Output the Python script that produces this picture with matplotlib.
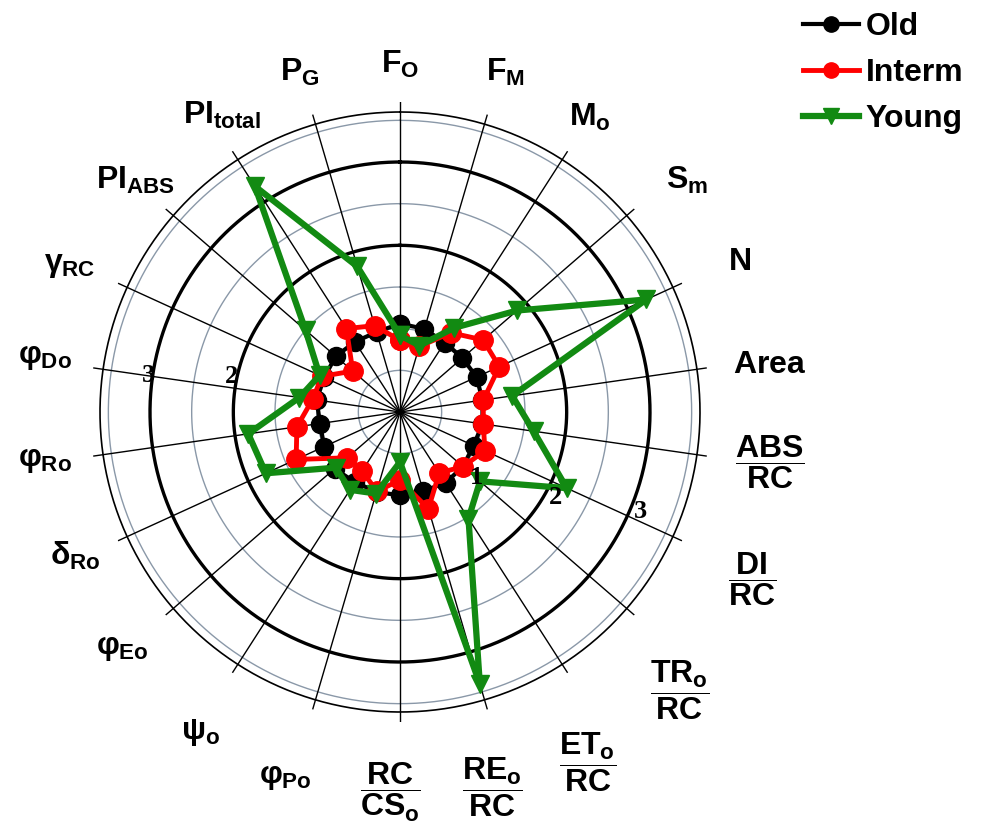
import numpy as np
import matplotlib
matplotlib.use("Agg")
import matplotlib.pyplot as plt
from matplotlib.lines import Line2D

plt.rcParams['font.family'] = ['Liberation Sans', 'DejaVu Sans']
plt.rcParams['mathtext.fontset'] = 'custom'
plt.rcParams['mathtext.rm'] = 'Liberation Sans:bold'
plt.rcParams['mathtext.it'] = 'Liberation Sans:bold'
plt.rcParams['mathtext.bf'] = 'Liberation Sans:bold'
plt.rcParams['mathtext.sf'] = 'Liberation Sans:bold'

# ---------------- data ----------------
categories = [r'$F_O$', r'$F_M$', r'$M_o$', r'$S_m$', r'$N$', r'$Area$',
              r'$\dfrac{ABS}{RC}$', r'$\dfrac{DI}{RC}$', r'$\dfrac{TR_o}{RC}$',
              r'$\dfrac{ET_o}{RC}$', r'$\dfrac{RE_o}{RC}$', r'$\dfrac{RC}{CS_o}$',
              r'$φ_{Po}$', r'$ψ_o$', r'$φ_{Eo}$', r'$δ_{Ro}$', r'$φ_{Ro}$',
              r'$φ_{Do}$', r'$γ_{RC}$', r'$PI_{ABS}$', r'$PI_{total}$', r'$P_G$']

old = [1.06, 1.04, 0.99, 0.99, 1.01, 1.00, 1.00, 0.97, 1.00, 1.01, 0.99,
       1.00, 1.00, 1.00, 1.04, 1.00, 0.97, 1.01, 1.00, 1.02, 1.00, 1.00]
interm = [0.86, 0.82, 1.13, 1.32, 1.31, 1.01, 1.01, 1.12, 1.00, 0.87, 1.21,
          0.82, 0.99, 0.84, 0.84, 1.37, 1.25, 1.06, 1.03, 0.75, 1.19, 1.08]
young = [0.92, 0.83, 1.20, 1.86, 3.25, 1.36, 1.62, 2.20, 1.27, 1.52, 3.40,
         0.60, 1.02, 1.11, 1.02, 1.77, 1.84, 1.22, 1.06, 1.50, 3.22, 1.82]

series_names = ['Old', 'Interm', 'Young']
tick_values = ['1', '2', '3']

# ---------------- layout ----------------
W, H = 987, 835
fig = plt.figure(figsize=(W / 100, H / 100), dpi=100)
cx, cy, R = 400, 412, 310
ax = fig.add_axes([(cx - R) / W, (H - cy - R) / H, 2 * R / W, 2 * R / H],
                  projection='polar')
ax.set_theta_zero_location('N')
ax.set_theta_direction(-1)
rmax = 3.72
ax.set_ylim(0, rmax)
ax.grid(False)
ax.set_xticks([])
ax.set_yticks([])
ax.spines['polar'].set_visible(False)
ax.patch.set_alpha(0)

n = len(categories)
theta = np.arange(n) * 2 * np.pi / n
tfine = np.linspace(0, 2 * np.pi, 400)

# rings
for rr in [0.5, 1.0, 1.5, 2.5, 3.5]:
    ax.plot(tfine, np.full_like(tfine, rr), color='#8a98a8', lw=1.0, zorder=1)
for rr in [2.0, 3.0]:
    ax.plot(tfine, np.full_like(tfine, rr), color='black', lw=2.4, zorder=1)
ax.plot(tfine, np.full_like(tfine, 3.6), color='black', lw=1.2, zorder=1)
# spokes
for t in theta:
    ax.plot([t, t], [0, rmax], color='black', lw=1.0, zorder=1.5)

def closed(v):
    return np.append(theta, theta[0]), np.append(v, v[0])

t_, v_ = closed(old)
ax.plot(t_, v_, color='black', lw=3, marker='o', ms=13, zorder=3, clip_on=False)
t_, v_ = closed(interm)
ax.plot(t_, v_, color='#ff0000', lw=3.5, marker='o', ms=14, zorder=4, clip_on=False)
t_, v_ = closed(young)
ax.plot(t_, v_, color='#128a12', lw=4.5, marker='v', ms=13, zorder=5, clip_on=False)

# category labels (pixel positions)
label_pos = [(400, 64), (505, 72), (590, 117), (687, 180), (740, 262), (770, 365),
             (770, 462), (752, 579), (680, 690), (588, 762), (492, 787), (390, 792),
             (285, 777), (200, 733), (122, 648), (75, 556), (45, 460), (45, 357),
             (70, 265), (135, 180), (222, 115), (300, 72)]
for lab, (x, y) in zip(categories, label_pos):
    fig.text(x / W, 1 - y / H, lab, ha='center', va='center', fontsize=23,
             color='black')

# radial tick labels
tick_pos = [[(477, 478), (556, 498), (640, 512)], [None, (232, 377), (148, 375)]]
for row in tick_pos:
    for lab, p in zip(tick_values, row):
        if p is None:
            continue
        fig.text(p[0] / W, 1 - p[1] / H, lab, ha='center', va='center',
                 fontsize=19, fontweight='bold', family='Liberation Serif')

# legend
handles = [Line2D([], [], color='black', lw=3, marker='o', ms=11),
           Line2D([], [], color='#ff0000', lw=3.5, marker='o', ms=11),
           Line2D([], [], color='#128a12', lw=4.5, marker='v', ms=11)]
fig.legend(handles, series_names, loc='upper left',
           bbox_to_anchor=(800 / W, 1 - 9 / H), frameon=False,
           prop={'family': 'Liberation Sans', 'weight': 'bold', 'size': 23},
           handlelength=1.75, handletextpad=0.2, labelspacing=0.5,
           borderaxespad=0.0, borderpad=0.1)

fig.savefig('out.png', dpi=100)
